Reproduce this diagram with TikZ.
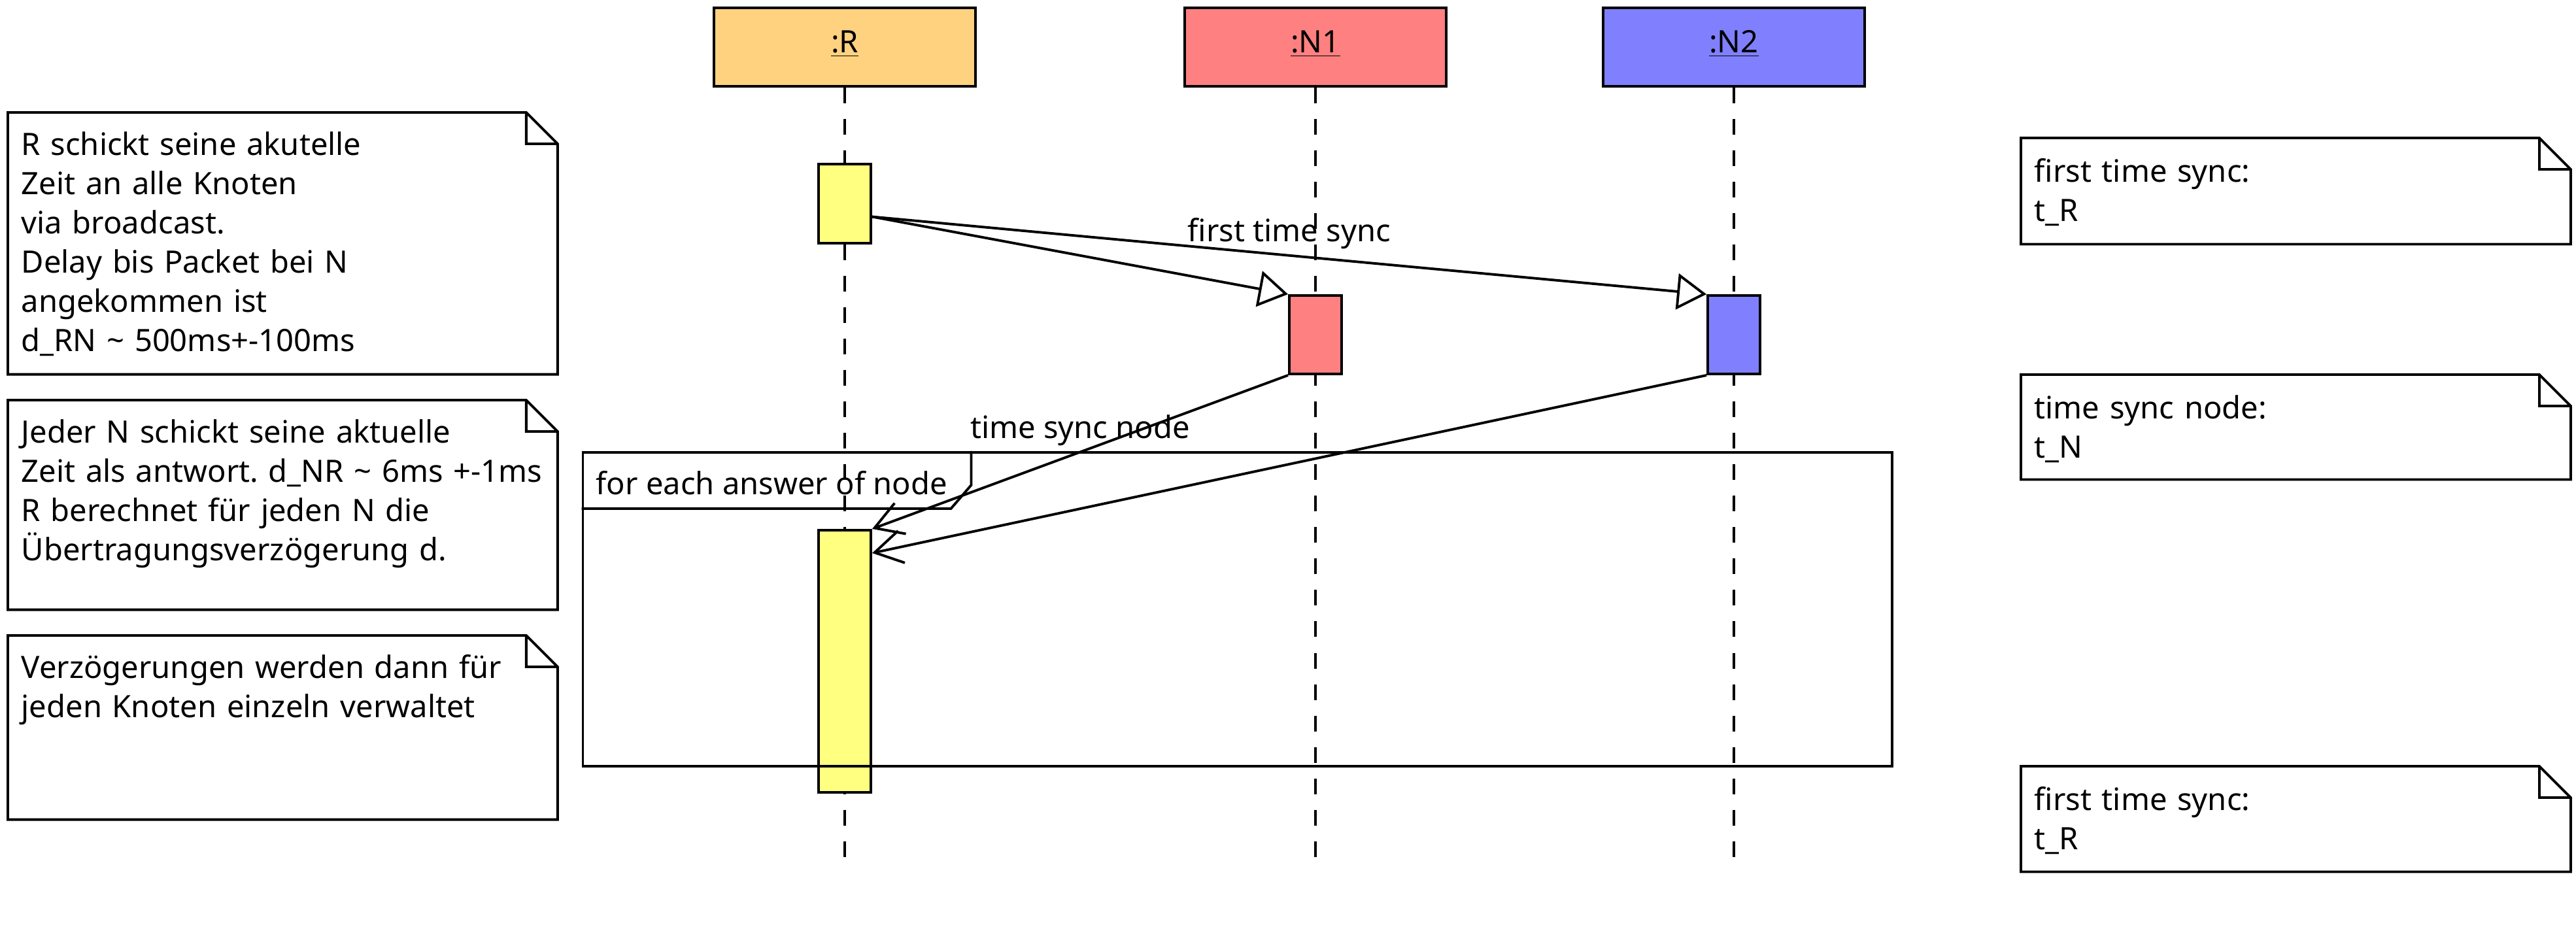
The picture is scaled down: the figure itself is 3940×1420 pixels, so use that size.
\documentclass[tikz,border=0pt]{standalone}
\usepackage{fontspec}
\setmainfont{Noto Sans}
\usetikzlibrary{calc, arrows.meta}

\definecolor{headR}{HTML}{FFD280}
\definecolor{colN1}{HTML}{FF8080}
\definecolor{colN2}{HTML}{8080FF}
\definecolor{actR}{HTML}{FFFF80}

\begin{document}
\frenchspacing
\begin{tikzpicture}[x=0.01cm, y=-0.01cm,
    every node/.style={font=\fontsize{13.4}{17.07}\selectfont},
    head/.style={draw, line width=1.1pt, minimum width=4cm, minimum height=1.2cm, text height=0.33cm, text depth=0.17cm},
    bar/.style={draw, line width=1.1pt, minimum width=0.8cm, inner sep=0pt},
    lifeline/.style={line width=1pt, dash pattern=on 0.24cm off 0.24cm},
    note/.style={anchor=north west, inner xsep=0.2cm, inner ysep=0pt, text width=7.99cm, text height=0.65cm, align=left},
    msg/.style={line width=1.1pt, -{Triangle[length=0.45cm, width=0.55cm, fill=white]}},
    reply/.style={line width=1.1pt, -{Straight Barb[length=0.42cm, width=0.5cm]}},
    lbl/.style={midway, above=0.08cm, inner sep=0pt}]

    \useasboundingbox (0, 0) rectangle (3940, 1420);

    \node[head, fill=headR] (R) at (1292, 72) {\underline{:R}};
    \node[head, fill=colN1] (N1) at (2012, 72) {\underline{:N1}};
    \node[head, fill=colN2] (N2) at (2652, 72) {\underline{:N2}};

    \coordinate (R-end) at (1292, 1332);
    \coordinate (N1-end) at (2012, 1316);
    \coordinate (N2-end) at (2652, 1316);

    \foreach \h in {R, N1, N2}
        \draw[lifeline] (\h.south) -- (\h-end);

    \node[bar, fill=actR, minimum height=1.21cm] (aR1) at (1292, 311.5) {};
    \node[bar, fill=colN1, minimum height=1.2cm] (aN1) at (2012, 512) {};
    \node[bar, fill=colN2, minimum height=1.2cm] (aN2) at (2652, 512) {};
    \node[bar, fill=actR, minimum height=4.01cm] (aR2) at (1292, 1011.5) {};

    \coordinate (out) at ($(aR1.east)+(0, 20)$);
    \coordinate (in2) at ($(aR2.north east)+(0, 37)$);

    \draw[msg] (out) -- (aN1.north west);
    \draw[msg] (out) -- node[lbl] {first time sync} (aN2.north west);
    \draw[reply] (aN1.south west) -- node[lbl] {time sync node} (aR2.north east);
    \draw[reply] (aN2.south west) -- (in2);

    \node[draw, line width=1.1pt, minimum width=20.01cm, minimum height=4.8cm, inner sep=0pt] (loop) at (1892.5, 932) {};
    \node[anchor=base west, inner sep=0pt] (loopname) at (911, 756) {for each answer of node};
    \draw[line width=1.1pt] ($(loop.north west)+(596, 0)$) -- ++(0, 52) -- ++(-31, 36) -- ($(loop.north west)+(0, 88)$);

    \node[note, text depth=3.34cm] (nSend) at (12, 172) {R schickt seine akutelle\\Zeit an alle Knoten\\via broadcast.\\Delay bis Packet bei N\\angekommen ist\\d\_RN \textasciitilde{} 500ms+-100ms};
    \node[note, text depth=2.54cm] (nAnswer) at (12, 612) {Jeder N schickt seine aktuelle\\\mbox{Zeit als antwort. d\_NR \textasciitilde{} 6ms +-1ms}\\R berechnet für jeden N die\\Übertragungsverzögerung d.};
    \node[note, text depth=2.15cm] (nStore) at (12, 972) {Verzögerungen werden dann für\\jeden Knoten einzeln verwaltet};
    \node[note, text height=0.67cm, text depth=0.94cm] (nFirst) at (3091, 211) {first time sync:\\t\_R};
    \node[note, text height=0.67cm, text depth=0.92cm] (nNode) at (3091, 573) {time sync node:\\t\_N};
    \node[note, text height=0.67cm, text depth=0.93cm] (nLast) at (3091, 1172) {first time sync:\\t\_R};

    \foreach \n in {nSend, nAnswer, nStore, nFirst, nNode, nLast}
        \draw[line width=1.1pt] (\n.north west) -- ($(\n.north east)+(-48, 0)$) -- ($(\n.north east)+(0, 48)$) -- (\n.south east) -- (\n.south west) -- cycle
            ($(\n.north east)+(-48, 0)$) |- ($(\n.north east)+(0, 48)$);

\end{tikzpicture}
\end{document}
